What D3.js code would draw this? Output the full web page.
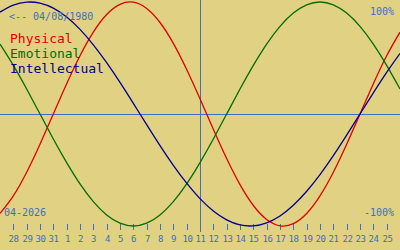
<!DOCTYPE html>
<html>
<head>
<meta charset="utf-8">
<script src="https://cdn.jsdelivr.net/npm/d3@7"></script>
<style>
  html, body { margin: 0; padding: 0; background: #e0d183; }
  svg { display: block; }
  text { font-family: "DejaVu Sans Mono", "Liberation Mono", monospace; }
</style>
</head>
<body>
<svg id="chart" width="400" height="250"></svg>
<script>
// one value per day, 27 March .. 26 April 2026
var dayLabels = ["28","29","30","31","1","2","3","4","5","6","7","8","9","10","11",
	"12","13","14","15","16","17","18","19","20","21","22","23","24","25"];
var physical = [-0.888,-0.731,-0.520,-0.270,0.000,0.270,0.520,0.731,0.888,0.979,0.998,
	0.942,0.817,0.631,0.398,0.136,-0.136,-0.398,-0.631,-0.817,-0.942,-0.998,-0.979,
	-0.888,-0.731,-0.520,-0.270,0.000,0.270,0.520,0.731];
var emotional = [0.624,0.434,0.223,0.000,-0.223,-0.434,-0.624,-0.782,-0.901,-0.975,-1.000,
	-0.975,-0.901,-0.782,-0.624,-0.434,-0.223,0.000,0.223,0.434,0.624,0.782,0.901,
	0.975,1.000,0.975,0.901,0.782,0.624,0.434,0.223];
var intellectual = [0.910,0.972,0.999,0.990,0.945,0.866,0.756,0.618,0.458,0.282,0.095,
	-0.095,-0.282,-0.458,-0.618,-0.756,-0.866,-0.945,-0.990,-0.999,-0.972,-0.910,-0.815,
	-0.690,-0.541,-0.372,-0.189,0.000,0.189,0.372,0.541];
var todayIndex = 15;
var birthText = "<-- 04/08/1980";
var monthText = "04-2026";
var legendNames = ["Physical", "Emotional", "Intellectual"];
var legendColors = ["#e00000", "#006e00", "#000090"];

var svg = d3.select("#chart");
var width = 400, height = 250;
var axisBlue = "#3f6fc0";

var x = d3.scaleLinear().domain([0, physical.length - 1]).range([0, width]);
var y = d3.scaleLinear().domain([-1, 1]).range([226, 2]);

//Zero line and today marker
var y0 = Math.round(y(0)) + 0.5;
svg.append("line")
	.attr("x1", 0).attr("x2", width)
	.attr("y1", y0).attr("y2", y0)
	.style("stroke", axisBlue).style("stroke-width", 1);
svg.append("line")
	.attr("x1", Math.round(x(todayIndex)) + 0.5).attr("x2", Math.round(x(todayIndex)) + 0.5)
	.attr("y1", 0).attr("y2", 232)
	.style("stroke", axisBlue).style("stroke-width", 1);

//Day ticks
var ticks = svg.append("g");
dayLabels.forEach(function(label, i) {
	var tx = Math.round(x(i + 1)) + 0.5;
	ticks.append("line")
		.attr("x1", tx).attr("x2", tx)
		.attr("y1", 224).attr("y2", 230)
		.style("stroke", axisBlue).style("stroke-width", 1);
	ticks.append("text")
		.attr("x", tx).attr("y", 242)
		.attr("text-anchor", "middle")
		.attr("font-size", "9px")
		.attr("letter-spacing", "-0.5")
		.style("fill", axisBlue)
		.text(label);
});

//Curves
var line = d3.line()
	.x(function(d, i) { return x(i); })
	.y(function(d) { return y(d); })
	.curve(d3.curveNatural);
[physical, emotional, intellectual].forEach(function(series, i) {
	svg.append("path")
		.attr("d", line(series))
		.style("fill", "none")
		.style("stroke", legendColors[i])
		.style("stroke-width", 1.3);
});

//Texts
svg.append("text").attr("x", 9).attr("y", 20)
	.attr("font-size", "10px").style("fill", axisBlue).text(birthText);
svg.append("text").attr("x", 4).attr("y", 216)
	.attr("font-size", "10px").style("fill", axisBlue).text(monthText);
svg.append("text").attr("x", 394).attr("y", 15).attr("text-anchor", "end")
	.attr("font-size", "10px").style("fill", axisBlue).text("100%");
svg.append("text").attr("x", 394).attr("y", 216).attr("text-anchor", "end")
	.attr("font-size", "10px").style("fill", axisBlue).text("-100%");

legendNames.forEach(function(name, i) {
	svg.append("text")
		.attr("x", 10).attr("y", 43 + i * 15)
		.attr("font-size", "13px")
		.style("fill", legendColors[i])
		.text(name);
});
</script>
</body>
</html>
